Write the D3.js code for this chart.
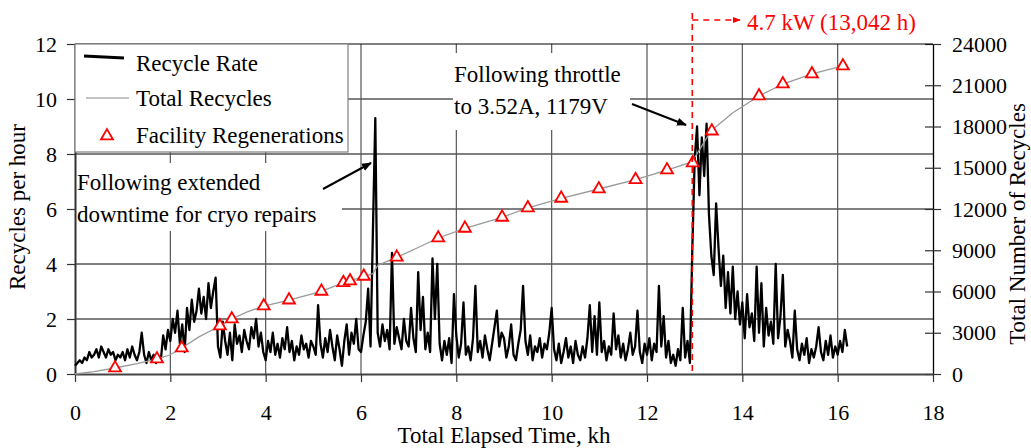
<!DOCTYPE html>
<html><head><meta charset="utf-8">
<script src="https://cdn.jsdelivr.net/npm/d3@7"></script>
<style>
body{margin:0;background:#fff}
svg{display:block}
</style>
</head><body>
<svg id="chart" width="1031" height="448"></svg>
<script>
// ---------- data ----------
const xTicks = [0, 2, 4, 6, 8, 10, 12, 14, 16, 18];
const yLeftTicks = [0, 2, 4, 6, 8, 10, 12];
const yRightTicks = [0, 3000, 6000, 9000, 12000, 15000, 18000, 21000, 24000];

// Recycle rate (recycles per hour), sampled every 0.05 kh from 0 to 16.2 kh
const rateStepKh = 0.05;
const recycleRate = [
  0.3,0.4,0.5,0.4,0.6,0.5,0.8,0.6,0.7,0.9,0.6,1.0,0.8,0.6,0.9,0.7,0.8,0.5,0.7,0.6,
  0.8,0.5,0.9,0.6,1.0,0.7,0.5,0.8,1.5,0.7,0.4,0.8,0.5,0.7,0.4,0.6,0.5,1.4,0.9,1.6,
  1.2,2.0,1.5,2.3,1.1,1.8,0.8,2.4,1.6,2.7,1.9,2.3,3.1,2.2,2.8,2.0,3.3,2.4,3.0,3.5,
  1.0,0.6,1.9,1.2,0.7,1.5,0.5,1.8,1.1,1.4,0.8,1.6,1.2,0.9,1.7,1.3,2.0,1.0,1.5,0.8,
  0.5,1.2,0.8,1.5,0.7,1.1,0.6,1.3,0.9,1.7,0.8,1.2,0.5,1.0,0.7,1.4,0.9,1.1,0.6,1.2,
  1.0,0.7,2.5,1.1,0.6,1.3,0.8,1.6,1.0,0.5,1.4,0.9,0.3,1.2,1.8,0.7,1.5,1.1,2.0,0.9,
  0.8,1.4,1.9,3.1,1.0,5.2,9.3,1.5,1.0,1.8,1.2,1.6,0.9,4.4,1.1,1.7,1.3,0.9,2.0,1.2,
  1.0,2.4,1.3,0.8,3.7,1.6,2.8,0.9,1.5,0.8,4.2,2.0,4.0,1.1,0.5,1.2,0.7,1.3,0.4,2.9,
  1.4,0.6,1.1,2.6,0.7,1.0,0.5,1.3,3.2,0.8,1.2,0.6,1.4,0.9,0.5,1.1,1.7,2.3,1.0,1.5,
  1.3,0.6,1.0,1.8,0.7,0.5,1.1,1.6,3.2,1.2,0.7,1.4,0.5,1.0,0.8,1.3,0.6,1.1,0.9,1.5,
  2.4,0.9,0.5,1.1,0.4,0.8,1.3,0.6,1.0,0.4,1.2,0.7,0.5,1.0,0.6,1.3,2.5,0.8,2.1,0.7,
  2.6,0.8,1.2,0.5,1.0,0.7,2.2,0.9,1.4,0.6,1.1,0.5,0.9,1.5,0.7,1.0,2.3,0.8,0.4,1.1,
  0.7,1.3,0.5,1.1,0.8,3.2,1.0,2.1,0.6,1.2,0.4,0.7,0.3,0.9,0.5,2.4,0.6,1.2,0.4,4.5,
  7.8,9.0,6.5,8.6,7.2,9.1,5.8,4.3,3.6,6.2,4.6,3.2,4.3,2.4,3.7,2.2,3.9,2.0,3.0,1.8,
  2.6,1.3,2.9,1.7,2.2,1.2,3.9,1.5,3.3,1.0,2.4,1.4,1.9,1.1,4.0,1.3,2.1,3.6,1.0,1.6,
  1.2,0.6,2.3,0.9,0.5,1.1,0.7,1.3,0.4,0.9,0.6,1.0,1.7,0.8,0.5,1.2,0.7,1.4,0.6,1.0,
  0.7,1.2,0.8,1.6,1.0
];

// Total recycles (cumulative)
const totalTimeKh = [0,0.4,0.84,1.3,1.72,2.0,2.24,2.6,3.04,3.29,3.6,3.96,4.49,5.17,5.63,5.77,6.06,6.25,6.35,6.75,7.2,7.62,8.18,8.96,9.5,10.2,10.99,11.76,12.42,12.94,13.1,13.34,13.8,14.35,14.85,15.46,16.11,16.2];
const totalRecycles = [0,180,436,750,1090,1400,1890,2700,3490,4000,4500,4945,5380,6015,6640,6765,7105,7300,7900,8490,9200,9890,10595,11395,12075,12780,13455,14130,14835,15420,16300,17670,19000,20220,21090,21820,22400,22500];

// Facility regenerations (markers on the cumulative curve)
const regenTimeKh = [0.84,1.72,2.24,3.04,3.29,3.96,4.49,5.17,5.63,5.77,6.06,6.75,7.62,8.18,8.96,9.5,10.2,10.99,11.76,12.42,12.96,13.36,14.35,14.85,15.46,16.11];
const regenTotal  = [436,1090,1890,3490,4000,4945,5380,6015,6640,6765,7105,8490,9890,10595,11395,12075,12780,13455,14130,14835,15350,17670,20220,21090,21820,22400];

const powerChangeKh = 12.95;
const powerLabel = "4.7 kW (13,042 h)";
const legendLabels = ["Recycle Rate", "Total Recycles", "Facility Regenerations"];
const note1 = ["Following extended", "downtime for cryo repairs"];
const note2 = ["Following throttle", "to 3.52A, 1179V"];
const xTitle = "Total Elapsed Time, kh";
const yLeftTitle = "Recycles per hour";
const yRightTitle = "Total Number of Recycles";

// ---------- font: pick an installed Times-like serif ----------
function pickFont(cands) {
  const c = document.createElement("canvas").getContext("2d");
  const s = "Facility Regenerations 0123456789 kW";
  for (const f of cands) {
    let ok = true;
    for (const fb of ["monospace", "sans-serif"]) {
      c.font = `40px ${fb}`; const w0 = c.measureText(s).width;
      c.font = `40px "${f}", ${fb}`; const w1 = c.measureText(s).width;
      if (Math.abs(w0 - w1) < 0.5) { ok = false; break; }
    }
    if (ok) return `"${f}"`;
  }
  return "serif";
}
const FONT = pickFont(["Liberation Serif", "Tinos", "Times New Roman", "Times", "Nimbus Roman", "FreeSerif", "Noto Serif", "DejaVu Serif"]) + ", serif";

// ---------- drawing ----------
const svg = d3.select("#chart");
const L = 75, R = 933, T = 44, B = 374;
const x = d3.scaleLinear().domain([0, 18]).range([L, R]);
const yL = d3.scaleLinear().domain([0, 12]).range([B, T]);
const yR = d3.scaleLinear().domain([0, 24000]).range([B, T]);

const defs = svg.append("defs");
defs.append("marker").attr("id","arrowBlack").attr("viewBox","0 0 10 10")
  .attr("refX",9).attr("refY",5).attr("markerWidth",5).attr("markerHeight",5)
  .attr("markerUnits","strokeWidth").attr("orient","auto")
  .append("path").attr("d","M0,1 L10,5 L0,9 Z").attr("fill","#000");
defs.append("marker").attr("id","arrowRed").attr("viewBox","0 0 10 10")
  .attr("refX",9).attr("refY",5).attr("markerWidth",5).attr("markerHeight",5)
  .attr("markerUnits","strokeWidth").attr("orient","auto")
  .append("path").attr("d","M0,1 L10,5 L0,9 Z").attr("fill","#f00");

// gridlines
svg.append("g").selectAll("line").data(yLeftTicks.filter(d => d > 0 && d < 12)).join("line")
  .attr("x1", L).attr("x2", R).attr("y1", d => yL(d)).attr("y2", d => yL(d))
  .attr("stroke", "#000").attr("stroke-width", 1);
svg.append("g").selectAll("line").data(xTicks.filter(d => d > 0 && d < 18)).join("line")
  .attr("x1", d => x(d)).attr("x2", d => x(d)).attr("y1", T).attr("y2", B)
  .attr("stroke", "#555").attr("stroke-width", 1.2);

// annotation backgrounds
svg.append("rect").attr("x", L + 1).attr("y", 163).attr("width", 342 - L - 1).attr("height", 68).attr("fill", "#fff");
svg.append("rect").attr("x", 453).attr("y", 53).attr("width", 177).attr("height", 77).attr("fill", "#fff");

// axes
const axL = svg.append("g").attr("transform", `translate(${L},0)`)
  .call(d3.axisLeft(yL).tickValues(yLeftTicks).tickSize(8).tickSizeOuter(0).tickPadding(10).tickFormat(d3.format("d")));
const axR = svg.append("g").attr("transform", `translate(${R},0)`)
  .call(d3.axisRight(yR).tickValues(yRightTicks).tickSize(8).tickSizeOuter(0).tickPadding(11).tickFormat(d => String(d)));
axR.selectAll(".tick line").attr("x1", -8);
const axB = svg.append("g").attr("transform", `translate(0,${B})`)
  .call(d3.axisBottom(x).tickValues(xTicks).tickSize(8).tickSizeOuter(0).tickPadding(22).tickFormat(d3.format("d")));
[axL, axR, axB].forEach(a => {
  a.attr("font-family", null).attr("font-size", null);
  a.selectAll("text").style("font-family", FONT).style("font-size", "22px").attr("fill", "#000");
  a.selectAll(".tick line").attr("stroke", "#333").attr("stroke-width", 1.2);
});
axL.select(".domain").attr("stroke", "#333").attr("stroke-width", 2);
axR.select(".domain").attr("stroke", "#000").attr("stroke-width", 1.3);
axB.select(".domain").attr("stroke", "#444").attr("stroke-width", 2.2);
// top frame
svg.append("line").attr("x1", L).attr("x2", R).attr("y1", yL(12)).attr("y2", yL(12)).attr("stroke", "#000").attr("stroke-width", 1.2);

// recycle rate line
const rateData = recycleRate.map((v, i) => [i * rateStepKh, v]);
svg.append("path").datum(rateData)
  .attr("d", d3.line().x(d => x(d[0])).y(d => yL(d[1])))
  .attr("fill", "none").attr("stroke", "#000").attr("stroke-width", 2.3).attr("stroke-linejoin", "round");

// total recycles line
const totalData = totalTimeKh.map((t, i) => [t, totalRecycles[i]]);
svg.append("path").datum(totalData)
  .attr("d", d3.line().x(d => x(d[0])).y(d => yR(d[1])))
  .attr("fill", "none").attr("stroke", "#999").attr("stroke-width", 1.3);

// regeneration markers
const tri = d3.symbol().type(d3.symbolTriangle).size(62);
svg.append("g").selectAll("path").data(regenTimeKh.map((t, i) => [t, regenTotal[i]])).join("path")
  .attr("transform", d => `translate(${x(d[0])},${yR(d[1])})`)
  .attr("d", tri).attr("fill", "#fff").attr("stroke", "#f00").attr("stroke-width", 1.8);

// red power-change marker
svg.append("line").attr("x1", x(powerChangeKh)).attr("x2", x(powerChangeKh)).attr("y1", 13).attr("y2", B)
  .attr("stroke", "#f00").attr("stroke-width", 1.6).attr("stroke-dasharray", "6,5");
svg.append("line").attr("x1", x(powerChangeKh)).attr("x2", 740).attr("y1", 20).attr("y2", 20)
  .attr("stroke", "#f00").attr("stroke-width", 1.6).attr("stroke-dasharray", "6,5")
  .attr("marker-end", "url(#arrowRed)");

function txt(sel, s, size) {
  return sel.append("text").style("font-family", FONT).style("font-size", size + "px").attr("fill", "#000").text(s);
}
txt(svg, powerLabel, 23).attr("x", 747).attr("y", 30).attr("fill", "#f00");

// legend
const lg = svg.append("g");
lg.append("rect").attr("x", L).attr("y", T).attr("width", 348 - L).attr("height", 152 - T)
  .attr("fill", "#fff").attr("stroke", "#808080").attr("stroke-width", 1.2);
lg.append("line").attr("x1", 84).attr("x2", 124).attr("y1", 56).attr("y2", 58).attr("stroke", "#000").attr("stroke-width", 3);
lg.append("line").attr("x1", 86).attr("x2", 129).attr("y1", 98).attr("y2", 98).attr("stroke", "#888").attr("stroke-width", 1.2);
lg.append("path").attr("transform", "translate(107,136)").attr("d", tri).attr("fill", "#fff").attr("stroke", "#f00").attr("stroke-width", 1.8);
[71, 106, 143].forEach((yy, i) => txt(lg, legendLabels[i], 23).attr("x", 136).attr("y", yy));

// annotations
note1.forEach((s, i) => txt(svg, s, 23).attr("x", 77).attr("y", 190 + i * 31.5));
note2.forEach((s, i) => txt(svg, s, 23).attr("x", 454).attr("y", 82 + i * 31.5));
svg.append("line").attr("x1", 323).attr("y1", 189).attr("x2", 371).attr("y2", 163)
  .attr("stroke", "#000").attr("stroke-width", 2).attr("marker-end", "url(#arrowBlack)");
svg.append("line").attr("x1", 632).attr("y1", 104).attr("x2", 686).attr("y2", 125)
  .attr("stroke", "#000").attr("stroke-width", 2).attr("marker-end", "url(#arrowBlack)");

// axis titles
txt(svg, xTitle, 23).attr("x", (L + R) / 2).attr("y", 443).attr("text-anchor", "middle");
txt(svg, yLeftTitle, 23).attr("transform", "translate(25,207) rotate(-90)").attr("text-anchor", "middle");
txt(svg, yRightTitle, 23).attr("transform", "translate(1025,224) rotate(-90)").attr("text-anchor", "middle");
</script>
</body></html>
